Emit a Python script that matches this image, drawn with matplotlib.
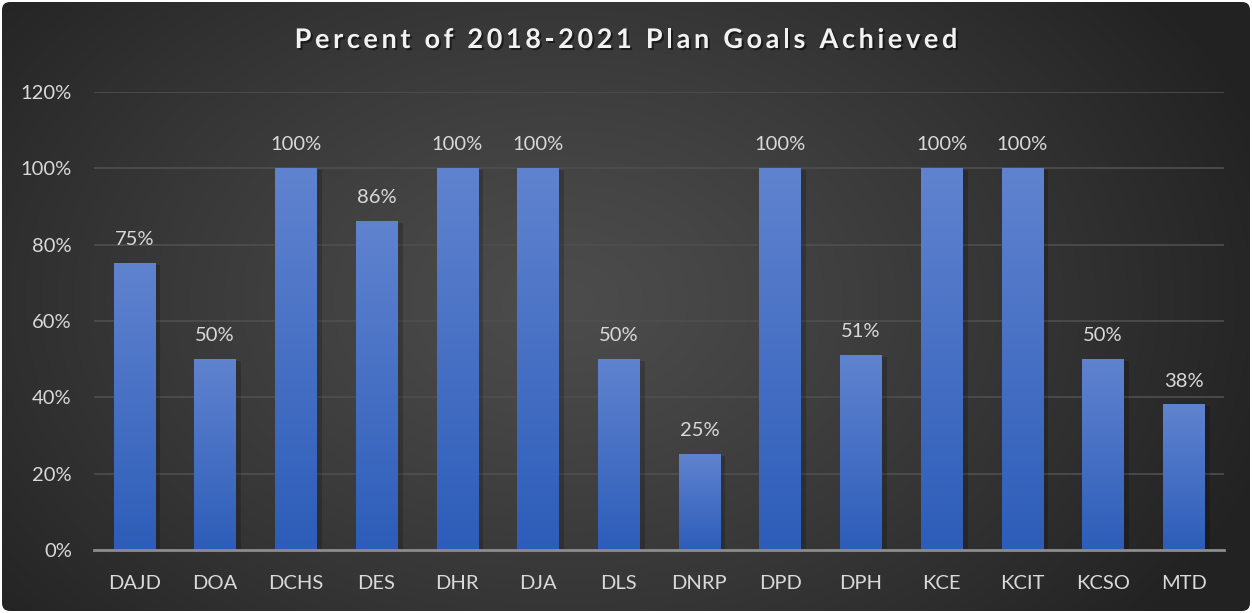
import matplotlib
matplotlib.use('Agg')
import matplotlib.pyplot as plt
import matplotlib.patheffects as pe
from matplotlib.patches import FancyBboxPatch
import numpy as np

categories = ['DAJD', 'DOA', 'DCHS', 'DES', 'DHR', 'DJA', 'DLS', 'DNRP',
              'DPD', 'DPH', 'KCE', 'KCIT', 'KCSO', 'MTD']
values = [75, 50, 100, 86, 100, 100, 50, 25, 100, 51, 100, 100, 50, 38]
y_ticks = [0, 20, 40, 60, 80, 100, 120]
title = 'Percent of 2018-2021 Plan Goals Achieved'

plt.rcParams['font.family'] = ['Lato', 'DejaVu Sans']
W, H = 1252, 613
fig = plt.figure(figsize=(W / 100, H / 100), dpi=100, facecolor='white')

# background with radial gradient and rounded corners
bg = fig.add_axes([0, 0, 1, 1])
bg.set_xlim(0, W)
bg.set_ylim(H, 0)
bg.axis('off')
yy, xx = np.mgrid[0:H, 0:W]
r = np.sqrt(((xx - 560) / 750.0) ** 2 + ((yy - 300) / 520.0) ** 2)
r = np.clip(r, 0, 1)
shade = 0x4c / 255 - (0x4c - 0x22) / 255 * r ** 1.2
img = np.dstack([shade, shade, shade])
im = bg.imshow(img, extent=(0, W, H, 0), interpolation='bilinear')
box = FancyBboxPatch((2, 2), W - 4, H - 4, boxstyle='round,pad=0,rounding_size=8',
                     transform=bg.transData, facecolor='none', edgecolor='none')
bg.add_patch(box)
im.set_clip_path(box)

ax = fig.add_axes([94 / W, 1 - 550 / H, (1224 - 94) / W, (550 - 92) / H])
ax.patch.set_alpha(0)
x = np.arange(len(categories))
bars = ax.bar(x, values, width=0.51, color='#3f6cc6', zorder=2,
              path_effects=[pe.SimplePatchShadow(offset=(4, -1), shadow_rgbFace='black', alpha=0.18),
                            pe.Normal()])
ax.set_xlim(-0.5, len(categories) - 0.5)
ax.set_ylim(0, 120)

# vertical gradient in each bar
grad = np.linspace(0, 1, 256).reshape(-1, 1)
top = np.array([0x60, 0x83, 0xcf]) / 255
bot = np.array([0x2d, 0x5d, 0xb9]) / 255
gimg = (top[None, None, :] * (1 - grad[:, :, None]) + bot[None, None, :] * grad[:, :, None])
for b in bars:
    bx, bw, bh = b.get_x(), b.get_width(), b.get_height()
    ax.imshow(gimg, extent=(bx, bx + bw, 0, bh), aspect='auto', zorder=3,
              interpolation='bilinear')
    ax.annotate(f'{int(b.get_height())}%', (bx + bw / 2, bh), xytext=(0, 11),
                textcoords='offset points', ha='center', va='bottom',
                color='#d9d9d9', fontsize=14.5)
ax.set_xlim(-0.5, len(categories) - 0.5)
ax.set_ylim(0, 120)

ax.set_yticks(y_ticks)
ax.set_yticklabels([f'{t}%' for t in y_ticks])
ax.set_xticks(x)
ax.set_xticklabels(categories)
ax.tick_params(axis='both', length=0, colors='#d9d9d9', labelsize=14.5)
ax.tick_params(axis='y', pad=16)
ax.tick_params(axis='x', pad=18)
ax.grid(axis='y', color='#4f4f4f', linewidth=1.2, zorder=0)
ax.set_axisbelow(True)
for s in ['top', 'right', 'left']:
    ax.spines[s].set_visible(False)
ax.spines['bottom'].set_color('#8c8c8c')
ax.spines['bottom'].set_linewidth(2)
ax.spines['bottom'].set_zorder(4)

# letter-spaced title
fig.canvas.draw()
renderer = fig.canvas.get_renderer()
tracking = 3.6
tprops = dict(fontsize=19.5, fontweight='bold', color='#f2f2f2', va='center',
              path_effects=[pe.withSimplePatchShadow(offset=(1.5, -1.5), shadow_rgbFace='black', alpha=0.5)])
widths = []
for ch in title:
    t = fig.text(0, 0, ch if ch != ' ' else 'n', **tprops)
    w = t.get_window_extent(renderer).width
    if ch == ' ':
        w *= 0.45
    widths.append(w)
    t.remove()
total = sum(widths) + tracking * (len(title) - 1)
cx = 626 - total / 2
for ch, w in zip(title, widths):
    if ch != ' ':
        fig.text(cx / W, 1 - 40 / H, ch, ha='left', **tprops)
    cx += w + tracking

fig.savefig('out.png', dpi=100, facecolor='white')
